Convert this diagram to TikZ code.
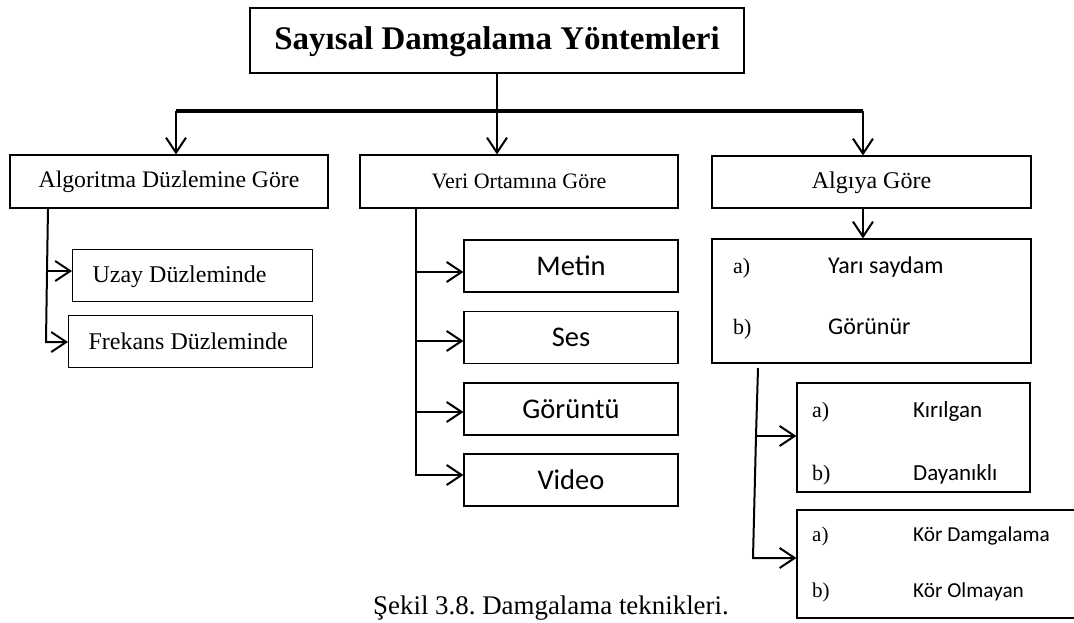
\documentclass[tikz,border=0pt]{standalone}
\usepackage{fontspec}
\setmainfont{Liberation Serif}
\newfontfamily\calfont{Carlito}
\usetikzlibrary{arrows.meta}
\newcommand\fsz[1]{\fontsize{#1pt}{#1pt}\selectfont}
% invisible strut: fixed height 0.75em and depth 0.1em in the current font
\newcommand\capstrut{\rule[-0.1em]{0pt}{0.85em}}
\frenchspacing
\begin{document}
\begin{tikzpicture}[x=1pt,y=-1pt,
  box/.style={draw,line width=1.2pt,inner sep=0pt,execute at begin node=\capstrut},
  arr/.style={line width=2pt,line join=miter,-{Straight Barb[length=15pt,width=20pt]}},
  trunk/.style={line width=2pt},
  lbl/.style={anchor=base west,inner sep=0pt},
  serif22/.style={font=\fsz{22}},
]
\useasboundingbox (0,0) rectangle (1074,622);

% title
\node[box,minimum width=494pt,minimum height=65pt,font=\fsz{33}\bfseries]
  (title) at (497,40.5) {Sayısal Damgalama Yöntemleri};

% first level
\node[box,minimum width=318pt,minimum height=53pt,font=\fsz{23.7}]
  (alg) at (169,181.5) {Algoritma Düzlemine Göre};
\node[box,minimum width=318pt,minimum height=53pt,font=\fsz{22}]
  (veri) at (519,181.5) {Veri Ortamına Göre};
\node[box,minimum width=319pt,minimum height=52pt,font=\fsz{24}]
  (algi) at (871.5,182) {Algıya Göre};

% distribution bar
\coordinate (bar) at (497,111);
\coordinate (barL) at (176,111);
\coordinate (barR) at (863,111);
\draw[line width=2.7pt] (title.south) -- (bar);
\draw[line width=3.5pt] (barL) -- (barR);
\draw[arr] (barL) -- (barL |- alg.north);
\draw[arr] (bar) -- (bar |- veri.north);
\draw[arr] (barR) -- (barR |- algi.north);

% left branch
\node[box,anchor=north west,inner xsep=20pt,minimum height=52pt,font=\fsz{24}]
  (uzay) at (72,249) {\makebox[200pt][l]{Uzay Düzleminde}};
\node[box,anchor=north west,inner xsep=20pt,minimum height=52pt,font=\fsz{24}]
  (frek) at (68,315) {\makebox[204pt][l]{Frekans Düzleminde}};
\coordinate (lt) at (48,208);
\coordinate (lu) at (47,271);
\coordinate (lb) at (46,342);
\draw[trunk] (lt) -- (lu);
\draw[arr] (lu) -- (lu -| uzay.west);
\draw[arr] (lu) -- (lb) -- (lb -| frek.west);

% middle branch
\tikzset{medium/.style={box,minimum width=214pt,minimum height=52pt,font=\calfont\fsz{28.5}}}
\node[medium] (metin) at (571,266) {Metin};
\node[medium] (ses) at (571,337.5) {Ses};
\node[medium] (goruntu) at (571,409) {Görüntü};
\node[medium] (video) at (571,480) {Video};
\coordinate (mt) at (416,208);
\coordinate (m1) at (416,272);
\coordinate (m2) at (416,341);
\coordinate (m3) at (416,412);
\coordinate (m4) at (416,475);
\draw[trunk] (mt) -- (m1);
\draw[arr] (m1) -- (m1 -| metin.west);
\draw[arr] (m2) -- (m2 -| ses.west);
\draw[arr] (m3) -- (m3 -| goruntu.west);
\draw[arr] (m1) -- (m4) -- (m4 -| video.west);

% right branch
\node[box,minimum width=319pt,minimum height=124pt] (gor) at (871.5,301) {};
\node[lbl,serif22] (gor-a) at (733,273.5) {a)};
\node[lbl,font=\calfont\fsz{24}] (gor-at) at (828,273.5) {Yarı saydam};
\node[lbl,serif22] (gor-b) at (733,334.5) {b)};
\node[lbl,font=\calfont\fsz{24}] (gor-bt) at (828,334.5) {Görünür};
\draw[arr] (barR |- algi.south) -- (barR |- gor.north);

\node[box,minimum width=233pt,minimum height=109pt] (dayan) at (913.5,437.5) {};
\node[lbl,serif22] (dayan-a) at (812,417.5) {a)};
\node[lbl,font=\calfont\fsz{23}] (dayan-at) at (913,417.5) {Kırılgan};
\node[lbl,serif22] (dayan-b) at (812,480.5) {b)};
\node[lbl,font=\calfont\fsz{23}] (dayan-bt) at (913,480.5) {Dayanıklı};

\node[box,minimum width=303pt,minimum height=108pt] (kor) at (948.5,564) {};
\node[lbl,font=\fsz{21}] (kor-a) at (812,541) {a)};
\node[lbl,font=\calfont\fsz{21.3}] (kor-at) at (913,541) {Kör Damgalama};
\node[lbl,font=\fsz{21}] (kor-b) at (812,597) {b)};
\node[lbl,font=\calfont\fsz{21.3}] (kor-bt) at (913,597) {Kör Olmayan};

\coordinate (rt) at (758,368);
\coordinate (r1) at (756,436);
\coordinate (rb) at (753,558);
\draw[trunk] (rt) -- (r1);
\draw[arr] (r1) -- (r1 -| dayan.west);
\draw[arr] (r1) -- (rb) -- (rb -| kor.west);

% caption
\node[anchor=base west,inner sep=0pt,font=\fsz{26.9}] (caption) at (373,614)
  {Şekil 3.8. Damgalama teknikleri.};
\end{tikzpicture}
\end{document}
